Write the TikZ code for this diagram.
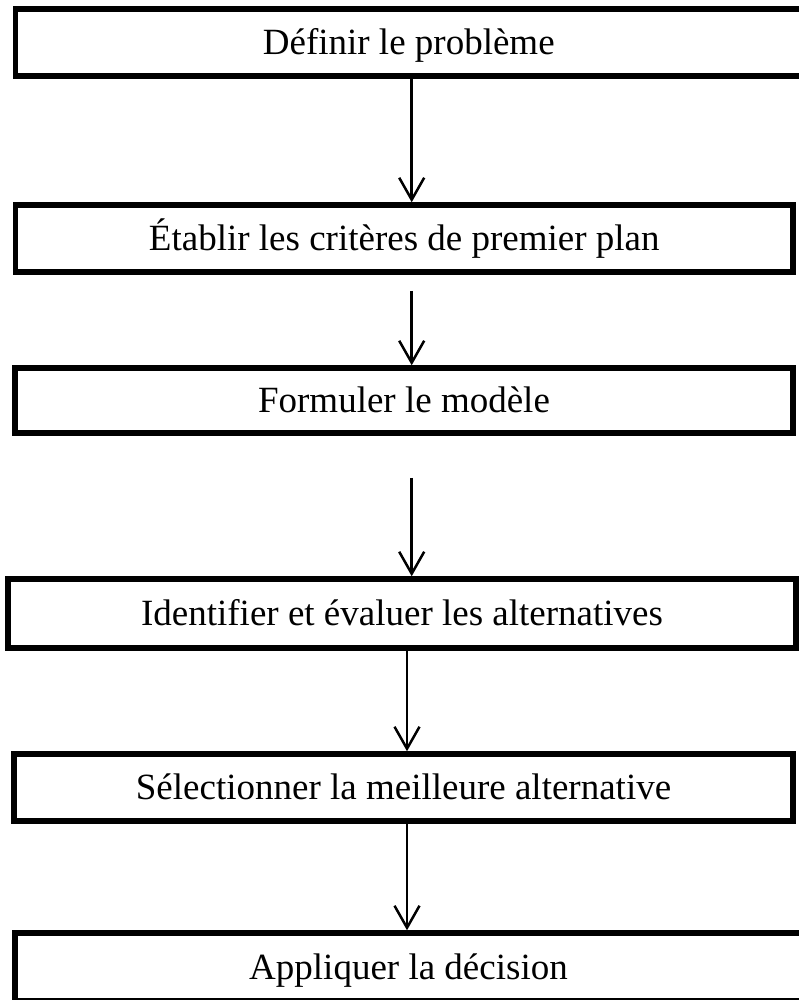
\documentclass[tikz,border=0pt]{standalone}
\usepackage{fontspec}
\setmainfont{Liberation Serif}
\usetikzlibrary{arrows.meta}
\begin{document}
\begin{tikzpicture}[x=1pt,y=1pt,
  stepbox/.style={draw=black, line width=5.5pt, rectangle, inner sep=0pt,
    font=\fontsize{37}{40}\selectfont, text height=24pt, text depth=0pt},
  flow/.style={draw=black, line width=2.5pt,
    -{Straight Barb[length=22pt,width=25pt,line width=2.5pt]}}]
\useasboundingbox (0,0) rectangle (799,-1000);
% process steps
\node[stepbox, minimum width=786.5pt, minimum height=67pt] (b1) at (408.75,-42.5) {Définir le problème};
\node[stepbox, minimum width=777.5pt, minimum height=67pt] (b2) at (404.25,-238.5) {Établir les critères de premier plan};
\node[stepbox, minimum width=778pt, minimum height=65pt] (b3) at (404,-400.5) {Formuler le modèle};
\node[stepbox, minimum width=788pt, minimum height=69pt] (b4) at (402,-613.5) {Identifier et évaluer les alternatives};
\node[stepbox, minimum width=779pt, minimum height=67pt] (b5) at (403.5,-787.5) {Sélectionner la meilleure alternative};
\node[stepbox, minimum width=787pt, minimum height=68pt] (b6) at (408.5,-967) {Appliquer la décision};
% arrow columns
\coordinate (xa) at (411.7,0);
\coordinate (xb) at (407,0);
% connectors
\draw[flow] (b1.south -| xa) -- (b2.north -| xa);
\draw[flow, shorten <=16pt] (b2.south -| xa) -- (b3.north -| xa);
\draw[flow, shorten <=42pt] (b3.south -| xa) -- (b4.north -| xa);
\draw[flow] (b4.south -| xb) -- (b5.north -| xb);
\draw[flow] (b5.south -| xb) -- (b6.north -| xb);
\end{tikzpicture}
\end{document}
